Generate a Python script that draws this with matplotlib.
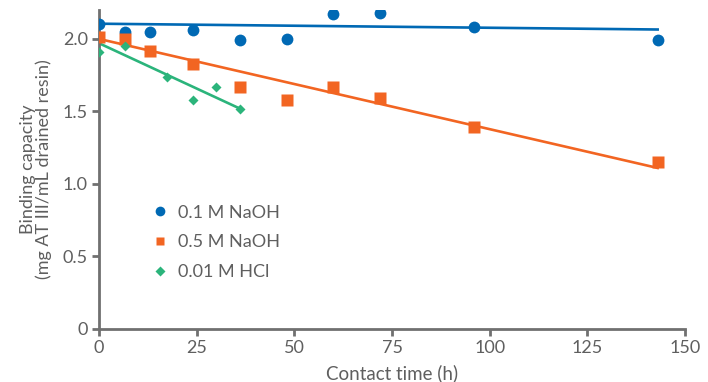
import matplotlib
matplotlib.use("Agg")
import matplotlib.pyplot as plt

plt.rcParams['font.family'] = ['Lato', 'DejaVu Sans']

# Data
naoh01_t = [0, 6.5, 13, 24, 36, 48, 60, 72, 96, 143]
naoh01_v = [2.10, 2.05, 2.05, 2.06, 1.99, 2.00, 2.17, 2.18, 2.08, 1.99]
naoh05_t = [0, 6.5, 13, 24, 36, 48, 60, 72, 96, 143]
naoh05_v = [2.01, 2.00, 1.92, 1.83, 1.67, 1.58, 1.67, 1.59, 1.39, 1.15]
hcl_t = [0, 6.5, 17.5, 24, 30, 36]
hcl_v = [1.91, 1.95, 1.74, 1.58, 1.67, 1.52]

# Trend lines (start/end)
naoh01_fit_t = [0, 143]
naoh01_fit_v = [2.105, 2.065]
naoh05_fit_t = [0, 143]
naoh05_fit_v = [2.00, 1.11]
hcl_fit_t = [0, 36]
hcl_fit_v = [1.97, 1.52]

labels = ['0.1 M NaOH', '0.5 M NaOH', '0.01 M HCl']
xticks = [0, 25, 50, 75, 100, 125, 150]
yticks = [0, 0.5, 1.0, 1.5, 2.0]
yticklabels = ['0', '0.5', '1.0', '1.5', '2.0']

blue = '#0069b4'
orange = '#f26522'
green = '#2bb47b'
gray = '#5f5f5f'
spine = '#707070'

fig = plt.figure(figsize=(7.08, 3.82), dpi=100)
ax = fig.add_axes([0.14, 0.139, 0.8275, 0.835])

ax.plot(naoh01_fit_t, naoh01_fit_v, color=blue, lw=1.9, zorder=2)
ax.plot(naoh05_fit_t, naoh05_fit_v, color=orange, lw=1.9, zorder=2)
ax.plot(hcl_fit_t, hcl_fit_v, color=green, lw=1.9, zorder=2)

ax.plot(naoh01_t, naoh01_v, 'o', color=blue, ms=8.5, mec='none', label=labels[0], zorder=3)
ax.plot(naoh05_t, naoh05_v, 's', color=orange, ms=8, mec='none', label=labels[1], zorder=3)
ax.plot(hcl_t, hcl_v, 'D', color=green, ms=5, mec='none', label=labels[2], zorder=3)

ax.set_xlim(0, 150)
ax.set_ylim(0, 2.2)
ax.set_xticks(xticks)
ax.set_yticks(yticks)
ax.set_yticklabels(yticklabels)

for s in ['top', 'right']:
    ax.spines[s].set_visible(False)
for s in ['left', 'bottom']:
    ax.spines[s].set_color(spine)
    ax.spines[s].set_linewidth(2)
ax.tick_params(axis='both', colors=spine, labelcolor=gray, labelsize=13, width=2, length=5, direction='out')
ax.tick_params(axis='x', pad=3)
ax.tick_params(axis='y', pad=3)

ax.set_xlabel('Contact time (h)', fontsize=13.5, color=gray)
ax.xaxis.set_label_coords(0.5, -0.11)
ax.set_ylabel('Binding capacity\n(mg AT III/mL drained resin)', fontsize=13, color=gray, linespacing=0.95)
ax.yaxis.set_label_coords(-0.08, 0.5)

leg = ax.legend(loc='upper left', bbox_to_anchor=(0.061, 0.44), frameon=False, fontsize=13,
                labelcolor=gray, handletextpad=0.5, labelspacing=0.75, handlelength=1.0)
for h, ms in zip(leg.legend_handles, [7, 5.5, 5]):
    h.set_markersize(ms)

fig.savefig('out.png', dpi=100)
